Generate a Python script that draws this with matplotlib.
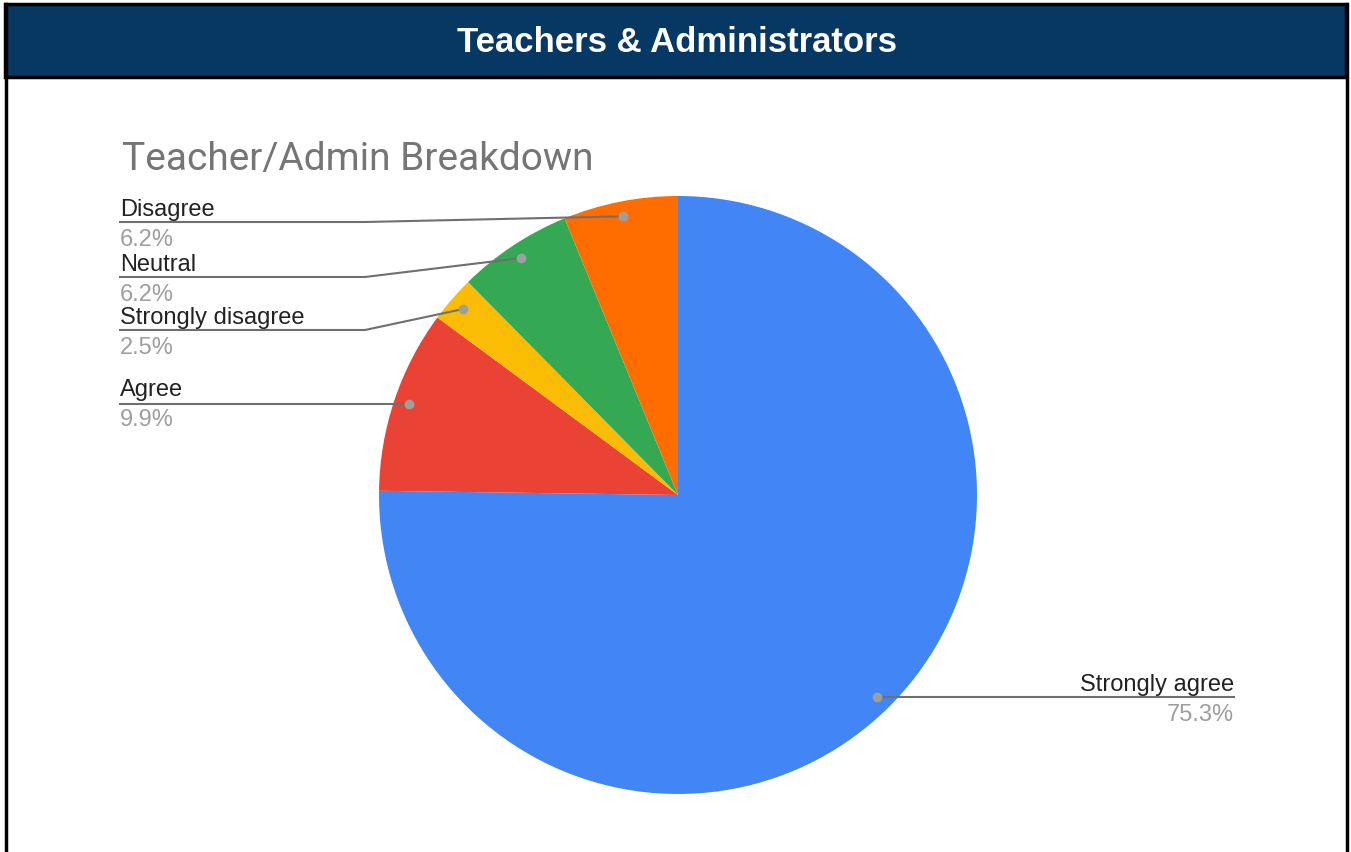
import matplotlib.pyplot as plt
import numpy as np
from matplotlib.patches import Rectangle

# Data (clockwise from 12 o'clock)
labels = ['Strongly agree', 'Agree', 'Strongly disagree', 'Neutral', 'Disagree']
shares = [75.3, 9.9, 2.5, 6.2, 6.2]
colors = ['#4285F4', '#EA4335', '#FBBC04', '#34A853', '#FF6D01']

header_title = 'Teachers & Administrators'
chart_title = 'Teacher/Admin Breakdown'

W, H = 1351, 852


def py(y):
    # pixel row (from top) -> data y
    return H - y


fig = plt.figure(figsize=(W / 100, H / 100), dpi=100)
ax = fig.add_axes([0, 0, 1, 1])

cx, cy, r = 678, py(495), 299
wedges, _ = ax.pie(shares, colors=colors, startangle=90, counterclock=False,
                   center=(cx, cy), radius=r, wedgeprops=dict(linewidth=0))
ax.set_xlim(0, W)
ax.set_ylim(0, H)
ax.set_aspect('equal')
ax.axis('off')

# header bar + outer frame
ax.add_patch(Rectangle((5, py(77)), W - 10, 73, facecolor='#073763',
                       edgecolor='black', linewidth=2.5, zorder=3))
ax.plot([6, 6], [py(4), 0], color='black', lw=2.5, zorder=3)
ax.plot([W - 4, W - 4], [py(4), 0], color='black', lw=2.5, zorder=3)
ax.text(677, py(42), header_title, color='white', fontsize=25, fontweight='bold',
        family='Liberation Sans', ha='center', va='center', zorder=4)

ax.text(122, py(170), chart_title, color='#757575', fontsize=28,
        family='Roboto', ha='left', va='baseline')

# anchor dots on each slice
dots = {}
for lab, w in zip(labels, wedges):
    mid = np.deg2rad((w.theta1 + w.theta2) / 2)
    dots[lab] = (cx + 0.95 * r * np.cos(mid), cy + 0.95 * r * np.sin(mid))

line_c = '#6f6f6f'
dot_c = '#9E9E9E'
name_c = '#222222'
pct_c = '#9E9E9E'
fs = 17

# left-side labels, top to bottom
left_rows = [('Disagree', py(222)), ('Neutral', py(277)),
             ('Strongly disagree', py(330)), ('Agree', None)]
x0, bend = 120, 365
for lab, ly in left_rows:
    dx, dy = dots[lab]
    if ly is None:
        ly = dy
    ax.plot([x0, bend, dx], [ly, ly, dy], color=line_c, lw=1.5, zorder=2)
    ax.plot(dx, dy, 'o', color=dot_c, ms=6, zorder=2)
    pct = shares[labels.index(lab)]
    name_off = 8 if lab == 'Agree' else 6
    ax.text(x0, ly + name_off, lab, color=name_c, fontsize=fs, family='Liberation Sans',
            ha='left', va='baseline')
    ax.text(x0, ly - 24 + (name_off - 6), f'{pct}%', color=pct_c, fontsize=fs,
            family='Liberation Sans', ha='left', va='baseline')

# right-side label
dx, dy = dots['Strongly agree']
x1 = 1234
ax.plot([dx, x1], [dy, dy], color=line_c, lw=1.5, zorder=2)
ax.plot(dx, dy, 'o', color=dot_c, ms=6, zorder=2)
ax.text(x1, dy + 6, 'Strongly agree', color=name_c, fontsize=fs, family='Liberation Sans',
        ha='right', va='baseline')
ax.text(x1, dy - 24, f'{shares[0]}%', color=pct_c, fontsize=fs, family='Liberation Sans',
        ha='right', va='baseline')

fig.savefig('out.png', dpi=100)
